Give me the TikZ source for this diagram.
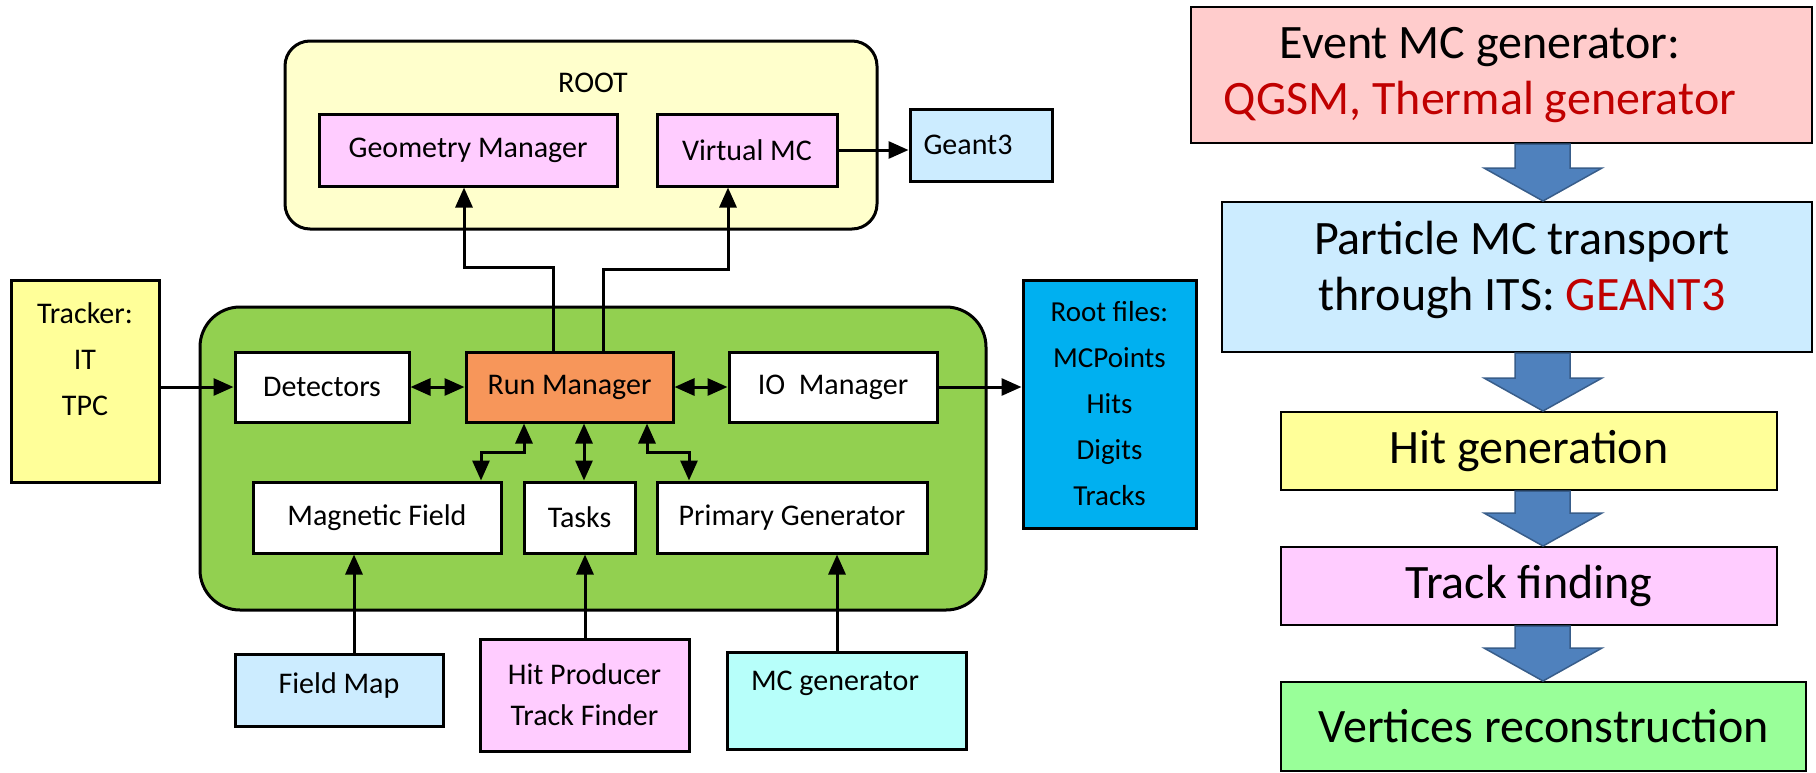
\documentclass[tikz,border=0pt]{standalone}
\usepackage{fontspec}
\setmainfont{Carlito}
\usetikzlibrary{arrows.meta,calc}
\definecolor{rootY}{HTML}{FFFFCC}
\definecolor{greenbg}{HTML}{92D050}
\definecolor{runO}{HTML}{F7965A}
\definecolor{pinkM}{HTML}{FFCCFF}
\definecolor{lblue}{HTML}{CCECFF}
\definecolor{yel}{HTML}{FFFF99}
\definecolor{rfblue}{HTML}{00B0F0}
\definecolor{lcyan}{HTML}{B7FFFA}
\definecolor{evpink}{HTML}{FFCCCC}
\definecolor{vgreen}{HTML}{99FF99}
\definecolor{redT}{HTML}{C00000}
\definecolor{arrowblue}{HTML}{4F81BD}
\definecolor{arrowedge}{HTML}{385D8A}
\newcommand\flowarrow[2]{\filldraw[barrow] let \p1=(#1.south), \p2=(#2.north) in (1515pt,\y1) -- (1570pt,\y1) -- (1570pt,\y2+33pt) -- (1602pt,\y2+33pt) -- (1543pt,\y2) -- (1484pt,\y2+33pt) -- (1515pt,\y2+33pt) -- cycle;}
\begin{document}
\begin{tikzpicture}[x=1pt,y=-1pt,
 box/.style={draw, line width=3pt, inner sep=0pt, align=center, font=\fontsize{30}{46}\selectfont},
 fbox/.style={draw, line width=2pt, inner sep=0pt, align=center, font=\fontsize{48}{56}\selectfont},
 lbl/.style={inner sep=0pt, align=center, font=\fontsize{30}{46}\selectfont},
 flbl/.style={inner sep=0pt, align=center, font=\fontsize{48}{56}\selectfont},
 conn/.style={line width=3pt, -{Triangle[length=20pt,width=17pt]}},
 dconn/.style={line width=3pt, {Triangle[length=20pt,width=17pt]}-{Triangle[length=20pt,width=17pt]}},
 barrow/.style={fill=arrowblue, draw=arrowedge, line width=1.5pt},
]
\useasboundingbox (0,0) rectangle (1816,772);
\fill[white] (0,0) rectangle (1816,772);

% ROOT group
\node[box, minimum width=592pt, minimum height=188pt, rounded corners=25pt, fill=rootY] (root) at (581,135) {};
\node[lbl] (rootlbl) at (593,83) {ROOT};
\node[box, minimum width=298pt, minimum height=72pt, fill=pinkM] (gm) at (468,150) {Geometry Manager};
\node[box, minimum width=180pt, minimum height=72pt, fill=pinkM] (vm) at (747,150) {Virtual MC};
\node[box, minimum width=142pt, minimum height=72pt, fill=lblue] (geant) at (981,145) {};
\node[lbl] (geantlbl) at (968,145) {Geant3};

% Tracker
\node[box, minimum width=148pt, minimum height=202pt, fill=yel] (tracker) at (85,381) {};
\node[lbl] (trackerlbl) at (85,359) {Tracker:\\IT\\TPC};

% green group
\node[box, minimum width=786pt, minimum height=303pt, rounded corners=40pt, fill=greenbg] (green) at (593,458.5) {};
\node[box, minimum width=174pt, minimum height=70pt, fill=white] (det) at (322,387) {Detectors};
\node[box, minimum width=207pt, minimum height=70pt, fill=runO] (rm) at (569.5,387) {Run Manager};
\node[box, minimum width=208pt, minimum height=70pt, fill=white] (io) at (833,387) {IO\ \ Manager};
\node[box, minimum width=248pt, minimum height=71pt, fill=white] (mf) at (377,517.5) {Magnetic Field};
\node[box, minimum width=111pt, minimum height=71pt, fill=white] (tasks) at (579.5,517.5) {Tasks};
\node[box, minimum width=270pt, minimum height=71pt, fill=white] (pg) at (792,517.5) {Primary Generator};

% Root files
\node[box, minimum width=173pt, minimum height=248pt, fill=rfblue, font=\fontsize{29}{46}\selectfont] (rf) at (1109.5,404) {Root files:\\MCPoints\\Hits\\Digits\\Tracks};

% bottom inputs
\node[box, minimum width=208pt, minimum height=72pt, fill=lblue] (fm) at (339,690) {};
\node[lbl] (fmlbl) at (339,685) {Field Map};
\node[box, minimum width=209pt, minimum height=112pt, fill=pinkM, font=\fontsize{30}{41}\selectfont] (hp) at (584.5,695) {Hit Producer\\Track Finder};
\node[box, minimum width=239pt, minimum height=97pt, fill=lcyan] (mcg) at (846.5,700.5) {};
\node[lbl] (mcglbl) at (835,683) {MC generator};

% helper coordinates
\coordinate (c464) at (464,267);
\coordinate (c553) at (553,267);
\coordinate (c603) at (603,269);
\coordinate (c728) at (728,269);
\coordinate (c524) at (524,452);
\coordinate (c481) at (481,452);
\coordinate (c584) at (584,452);
\coordinate (c647) at (647,452);
\coordinate (c689) at (689,452);
\coordinate (c354) at (354,600);
\coordinate (c585) at (585,600);
\coordinate (c837) at (837,600);

% connectors
\draw[conn] (c553 |- rm.north) -- (c553) -- (c464) -- (c464 |- gm.south);
\draw[conn] (c603 |- rm.north) -- (c603) -- (c728) -- (c728 |- vm.south);
\draw[conn] (vm.east) -- (vm.east -| geant.west);
\draw[conn] (tracker.east |- det.west) -- (det.west);
\draw[dconn] (det.east) -- (rm.west);
\draw[dconn] (rm.east) -- (io.west);
\draw[conn] (io.east) -- (io.east -| rf.west);
\draw[dconn] (c524 |- rm.south) -- (c524) -- (c481) -- (c481 |- mf.north);
\draw[dconn] (c584 |- rm.south) -- (c584 |- tasks.north);
\draw[dconn] (c647 |- rm.south) -- (c647) -- (c689) -- (c689 |- pg.north);
\draw[conn] (c354 |- fm.north) -- (c354 |- mf.south);
\draw[conn] (c585 |- hp.north) -- (c585 |- tasks.south);
\draw[conn] (c837 |- mcg.north) -- (c837 |- pg.south);

% right flow
\node[fbox, minimum width=621pt, minimum height=136pt, fill=evpink] (ev) at (1501.5,75) {};
\node[flbl] (evlbl) at (1480,75) {Event MC generator:\\\textcolor{redT}{QGSM, Thermal generator}};
\node[fbox, minimum width=590pt, minimum height=150pt, fill=lblue] (pt) at (1517,277) {};
\node[flbl] (ptlbl) at (1522,270) {Particle MC transport\\through ITS: \textcolor{redT}{GEANT3}};
\node[fbox, minimum width=496pt, minimum height=78pt, fill=yel] (hg) at (1529,451) {Hit generation};
\node[fbox, minimum width=496pt, minimum height=78pt, fill=pinkM] (tf) at (1529,586) {Track finding};
\node[fbox, minimum width=525pt, minimum height=89pt, fill=vgreen] (vr) at (1543.5,726.5) {Vertices reconstruction};

\flowarrow{ev}{pt}
\flowarrow{pt}{hg}
\flowarrow{hg}{tf}
\flowarrow{tf}{vr}
\end{tikzpicture}
\end{document}
